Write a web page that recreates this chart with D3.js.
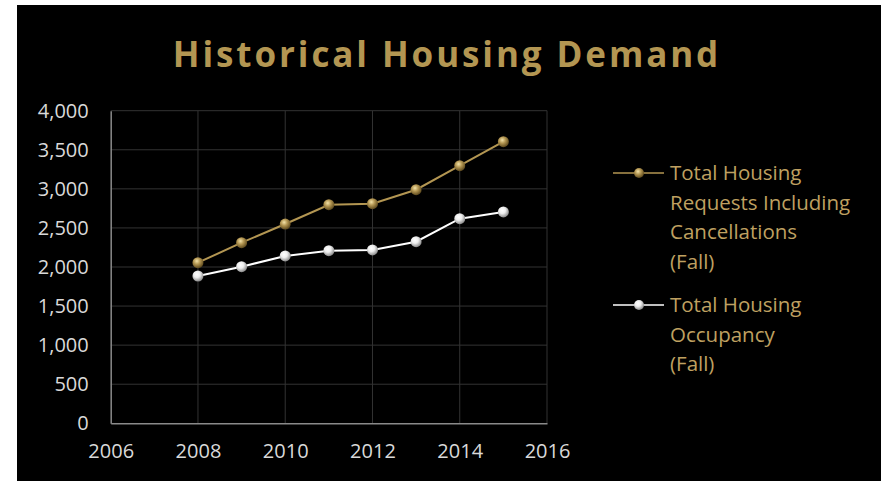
<!DOCTYPE html>
<html lang="en">
<head>
    <meta charset="UTF-8">
    <title>Historical Housing Demand</title>
    <script src="https://cdnjs.cloudflare.com/ajax/libs/d3/7.8.5/d3.min.js"></script>
    <style>
        body { margin: 0; background: #fff; }
        svg { display: block; }
        text { font-family: "Open Sans", "Noto Sans", sans-serif; }
        .tick text { fill: #d9d9d9; font-size: 20px; }
        .grid line { stroke: #333; stroke-width: 1; }
        .legend text { fill: #bfa061; font-size: 20.5px; }
    </style>
</head>
<body>
    <div id="chart"></div>

    <script>
        // data
        const years = [2008, 2009, 2010, 2011, 2012, 2013, 2014, 2015];
        const requests = [2055, 2311, 2550, 2797, 2810, 2989, 3296, 3603];
        const occupancy = [1885, 2004, 2141, 2209, 2218, 2324, 2618, 2704];
        const xTicks = [2006, 2008, 2010, 2012, 2014, 2016];
        const yTicks = [0, 500, 1000, 1500, 2000, 2500, 3000, 3500, 4000];
        const seriesNames = [
            ["Total Housing", "Requests Including", "Cancellations", "(Fall)"],
            ["Total Housing", "Occupancy", "(Fall)"]
        ];

        const width = 881, height = 481;
        const gold = "#b39652";

        const svg = d3.select("#chart").append("svg")
            .attr("width", width)
            .attr("height", height);

        // black background panel
        svg.append("rect")
            .attr("x", 17).attr("y", 5)
            .attr("width", width - 17).attr("height", height - 5)
            .attr("fill", "#000");

        // gradients for the shiny sphere markers
        const defs = svg.append("defs");
        function ball(id, light, mid, dark) {
            const g = defs.append("radialGradient")
                .attr("id", id)
                .attr("cx", "40%").attr("cy", "35%").attr("r", "65%");
            g.append("stop").attr("offset", "0%").attr("stop-color", light);
            g.append("stop").attr("offset", "45%").attr("stop-color", mid);
            g.append("stop").attr("offset", "100%").attr("stop-color", dark);
        }
        ball("ballGold", "#f3e2a8", "#b39652", "#5e4a1e");
        ball("ballWhite", "#ffffff", "#eeeeee", "#8a8a8a");

        // title
        svg.append("text")
            .attr("x", 447).attr("y", 67)
            .attr("text-anchor", "middle")
            .attr("fill", gold)
            .style("font-size", "35px")
            .style("font-weight", "bold")
            .style("letter-spacing", "2.9px")
            .text("Historical Housing Demand");

        const plotL = 110.7, plotR = 547, plotT = 110.7, plotB = 423.3;

        const x = d3.scaleLinear().domain([2006, 2016]).range([plotL, plotR]);
        const y = d3.scaleLinear().domain([0, 4000]).range([plotB, plotT]);

        // gridlines
        svg.append("g").attr("class", "grid")
            .selectAll("line").data(yTicks.slice(1)).enter().append("line")
            .attr("x1", plotL).attr("x2", plotR)
            .attr("y1", d => y(d)).attr("y2", d => y(d));
        svg.append("g").attr("class", "grid")
            .selectAll("line").data(xTicks.slice(1)).enter().append("line")
            .attr("x1", d => x(d)).attr("x2", d => x(d))
            .attr("y1", plotT).attr("y2", plotB);

        // axes
        const yAxis = svg.append("g")
            .attr("transform", "translate(" + plotL + ",0)")
            .call(d3.axisLeft(y).tickValues(yTicks).tickSize(0).tickPadding(22)
                .tickFormat(d3.format(",")));
        yAxis.select(".domain").attr("stroke", "#8a8a8a").attr("stroke-width", 1.5);

        const xAxis = svg.append("g")
            .attr("transform", "translate(0," + plotB + ")")
            .call(d3.axisBottom(x).tickValues(xTicks).tickSize(0).tickPadding(21)
                .tickFormat(d3.format("d")));
        xAxis.select(".domain").attr("stroke", "#8a8a8a").attr("stroke-width", 1.5);

        // series lines and markers
        const line = d3.line()
            .x((d, i) => x(years[i]))
            .y(d => y(d));

        function drawSeries(values, color, grad) {
            svg.append("path")
                .datum(values)
                .attr("fill", "none")
                .attr("stroke", color)
                .attr("stroke-width", 2)
                .attr("d", line);
            svg.selectAll(null).data(values).enter().append("circle")
                .attr("cx", (d, i) => x(years[i]))
                .attr("cy", d => y(d))
                .attr("r", 5.5)
                .attr("fill", "url(#" + grad + ")");
        }
        drawSeries(requests, gold, "ballGold");
        drawSeries(occupancy, "#ffffff", "ballWhite");

        // legend
        const legend = svg.append("g").attr("class", "legend");
        const entries = [
            { color: gold, grad: "ballGold", lines: seriesNames[0], y0: 173 },
            { color: "#ffffff", grad: "ballWhite", lines: seriesNames[1], y0: 305 }
        ];
        entries.forEach(e => {
            legend.append("line")
                .attr("x1", 613).attr("x2", 664)
                .attr("y1", e.y0).attr("y2", e.y0)
                .attr("stroke", e.color).attr("stroke-width", 1.5);
            legend.append("circle")
                .attr("cx", 639).attr("cy", e.y0).attr("r", 5)
                .attr("fill", "url(#" + e.grad + ")");
            legend.selectAll(null).data(e.lines).enter().append("text")
                .attr("x", 670)
                .attr("y", (d, i) => e.y0 + 7 + i * 29.5)
                .text(d => d);
        });
    </script>
</body>
</html>
